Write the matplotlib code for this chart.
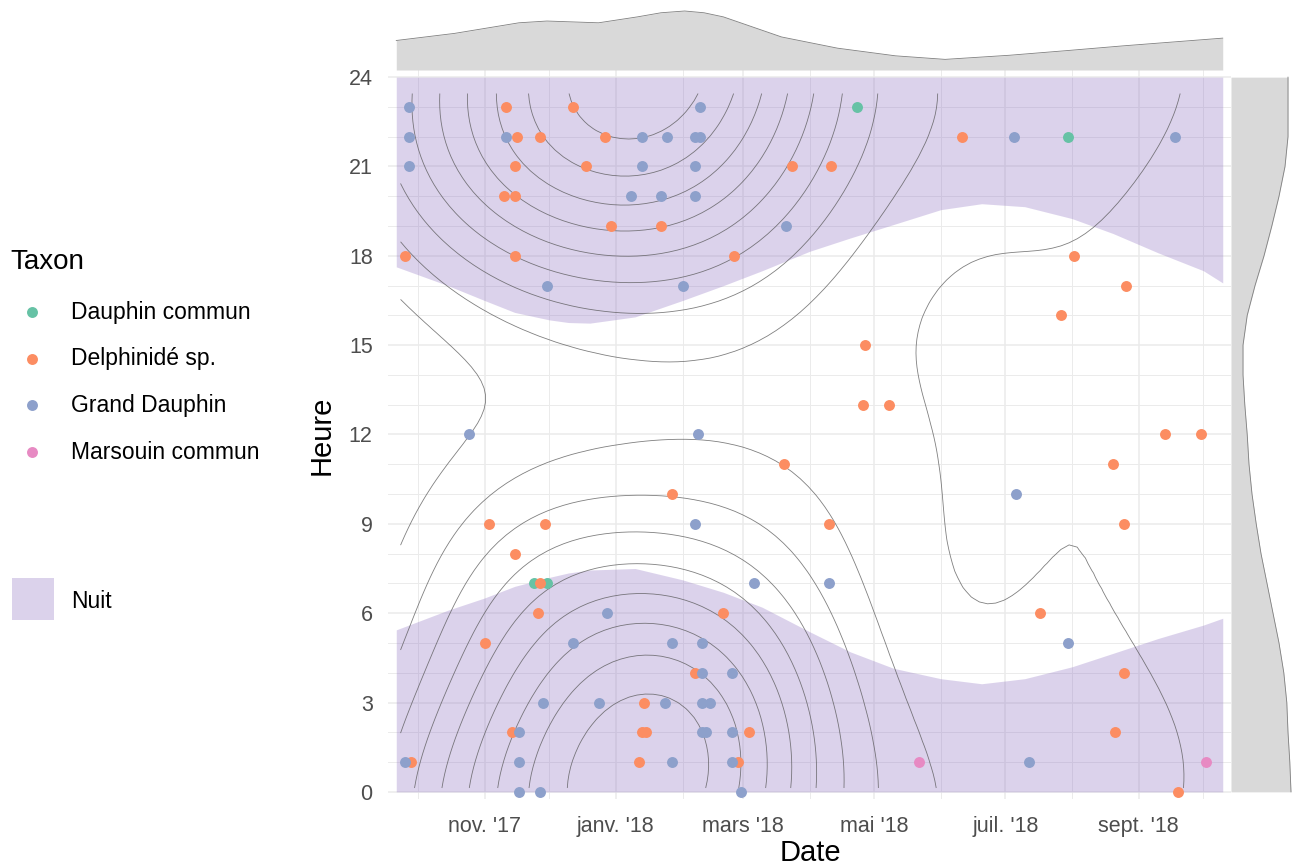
import numpy as np
import pandas as pd
import matplotlib
matplotlib.use("Agg")
import matplotlib.pyplot as plt
import matplotlib.dates as mdates
from matplotlib.patches import Rectangle
from matplotlib.ticker import MaxNLocator, MultipleLocator

plt.rcParams['font.family'] = ['Liberation Sans', 'DejaVu Sans']

# --- observations (date, hour) per taxon ---
dc_dates = ["2018-04-23", "2018-07-30", "2017-11-24", "2017-11-30"]
dc_hours = [23, 22, 7, 7]

ds_dates = ["2017-11-11", "2017-12-12",
            "2017-11-16", "2017-11-27", "2017-12-27", "2018-06-11",
            "2017-11-15", "2017-12-18", "2018-03-24", "2018-04-11",
            "2017-11-10", "2017-11-15",
            "2017-12-30", "2018-01-22",
            "2017-09-25", "2017-11-15", "2018-02-25", "2018-08-02",
            "2018-08-26", "2018-07-27", "2018-04-27",
            "2018-04-26", "2018-05-08",
            "2018-09-13", "2018-09-30",
            "2018-03-20", "2018-08-20",
            "2018-01-27",
            "2017-11-03", "2017-11-29", "2018-04-10", "2018-08-25",
            "2017-11-15", "2017-11-27",
            "2017-11-26", "2018-02-20", "2018-07-17",
            "2017-11-01",
            "2018-02-07", "2018-08-25",
            "2018-01-14",
            "2017-11-14", "2018-01-13", "2018-01-15", "2018-03-04", "2018-08-21",
            "2017-09-28", "2018-01-12", "2018-02-27",
            "2018-09-19"]
ds_hours = [23, 23,
            22, 22, 22, 22,
            21, 21, 21, 21,
            20, 20,
            19, 19,
            18, 18, 18, 18,
            17, 16, 15,
            13, 13,
            12, 12,
            11, 11,
            10,
            9, 9, 9, 9,
            8, 7,
            6, 6, 6,
            5,
            4, 4,
            3,
            2, 2, 2, 2, 2,
            1, 1, 1,
            0]

gd_dates = ["2017-09-27", "2018-02-09",
            "2017-09-27", "2017-11-11", "2018-01-13", "2018-01-25", "2018-02-07",
            "2018-02-09", "2018-07-05", "2018-09-18",
            "2017-09-27", "2018-01-13", "2018-02-07",
            "2018-01-08", "2018-01-22", "2018-02-07",
            "2018-03-21",
            "2017-11-30", "2018-02-01",
            "2017-10-25", "2018-02-08",
            "2018-07-06",
            "2018-02-07",
            "2018-03-06", "2018-04-10",
            "2017-12-28",
            "2017-12-12", "2018-01-27", "2018-02-10", "2018-07-30",
            "2018-02-10", "2018-02-24",
            "2017-11-28", "2017-12-24", "2018-01-24", "2018-02-10", "2018-02-14",
            "2017-11-17", "2018-02-10", "2018-02-12", "2018-02-24",
            "2017-09-25", "2017-11-17", "2018-01-27", "2018-02-24", "2018-07-12",
            "2017-11-17", "2017-11-27", "2018-02-28"]
gd_hours = [23, 23,
            22, 22, 22, 22, 22,
            22, 22, 22,
            21, 21, 21,
            20, 20, 20,
            19,
            17, 17,
            12, 12,
            10,
            9,
            7, 7,
            6,
            5, 5, 5, 5,
            4, 4,
            3, 3, 3, 3, 3,
            2, 2, 2, 2,
            1, 1, 1, 1, 1,
            0, 0, 0]

mc_dates = ["2018-05-22", "2018-10-02"]
mc_hours = [1, 1]

taxa = ["Dauphin commun", "Delphinidé sp.", "Grand Dauphin", "Marsouin commun"]
taxa_colors = ["#66C2A5", "#FC8D62", "#8DA0CB", "#E78AC3"]

# --- night band: sunrise / sunset (hours) ---
night_dates = ["2017-09-21", "2017-10-15", "2017-11-01", "2017-11-15", "2017-12-01",
               "2017-12-10", "2017-12-20", "2018-01-10", "2018-02-01", "2018-02-20",
               "2018-03-10", "2018-04-01", "2018-04-20", "2018-05-10", "2018-06-01",
               "2018-06-20", "2018-07-10", "2018-08-01", "2018-08-20", "2018-09-10",
               "2018-10-01", "2018-10-10"]
sunrise = [5.44, 6.10, 6.51, 6.90, 7.20, 7.35, 7.45, 7.50, 7.12, 6.70,
           6.20, 5.38, 4.70, 4.15, 3.80, 3.63, 3.80, 4.20, 4.65, 5.15,
           5.60, 5.83]
sunset = [17.63, 17.00, 16.50, 16.10, 15.85, 15.76, 15.74, 15.95, 16.50, 17.00,
          17.50, 18.15, 18.60, 19.05, 19.55, 19.75, 19.65, 19.25, 18.75, 18.10,
          17.50, 17.09]

# --- marginal densities (relative to their maximum) ---
dens_x_dates = ["2017-09-21", "2017-10-18", "2017-11-17", "2017-11-30", "2017-12-24",
                "2018-01-11", "2018-01-22", "2018-02-02", "2018-02-11", "2018-02-20",
                "2018-03-19", "2018-04-14", "2018-05-11", "2018-06-03", "2018-07-03",
                "2018-07-30", "2018-08-25", "2018-10-10"]
dens_x = [0.50, 0.62, 0.80, 0.83, 0.80, 0.90, 0.97, 1.00, 0.97, 0.90,
          0.56, 0.37, 0.24, 0.18, 0.25, 0.33, 0.41, 0.54]

dens_y_hours = [24, 22, 21, 20, 19, 18, 17, 16, 15, 14, 13, 12,
                11, 10, 9, 8, 7, 6, 5, 4, 3, 2, 1, 0]
dens_y = [0.95, 0.95, 0.90, 0.80, 0.68, 0.55, 0.40, 0.27, 0.20, 0.20, 0.23, 0.27,
          0.30, 0.35, 0.42, 0.50, 0.60, 0.70, 0.80, 0.88, 0.93, 0.95, 0.98, 1.00]

xtick_dates = ["2017-11-01", "2018-01-01", "2018-03-01", "2018-05-01", "2018-07-01", "2018-09-01"]
xtick_labels = ["nov. '17", "janv. '18", "mars '18", "mai '18", "juil. '18", "sept. '18"]

night_col = "#8a6cc0"
grid_col = "#EBEBEB"
marg_fill = "#D9D9D9"
marg_line = "#7f7f7f"


def to_num(ds):
    return mdates.date2num(pd.to_datetime(ds))


def nrd(v):
    q75, q25 = np.percentile(v, [75, 25])
    return 4 * 1.06 * min(np.std(v, ddof=1), (q75 - q25) / 1.34) * len(v) ** -0.2


def kde2d_wrapped(x, y, gx, gy, period=24, adjust_x=1.25):
    # hours wrap around midnight, so each point also counts one day up and down
    hx, hy = adjust_x * nrd(x) / 4, nrd(y) / 4
    xs = np.concatenate([x, x, x])
    ys = np.concatenate([y, y - period, y + period])
    ax_ = np.exp(-0.5 * ((gx[:, None] - xs[None, :]) / hx) ** 2)
    ay_ = np.exp(-0.5 * ((gy[:, None] - ys[None, :]) / hy) ** 2)
    return (ax_ @ ay_.T) / (2 * np.pi * len(x) * hx * hy)


groups = [(dc_dates, dc_hours), (ds_dates, ds_hours), (gd_dates, gd_hours), (mc_dates, mc_hours)]
all_x = np.concatenate([to_num(d) for d, h in groups])
all_y = np.concatenate([np.asarray(h, float) for d, h in groups])

nx = to_num(night_dates)
span = nx[-1] - nx[0]
xlim = (nx[0] - 0.01 * span, nx[-1] + 0.01 * span)
ylim = (-0.24, 24.24)

W, H = 1293, 868
fig = plt.figure(figsize=(W / 100, H / 100), dpi=100)


def px_axes(x0, y0, x1, y1):
    return fig.add_axes([x0 / W, 1 - y1 / H, (x1 - x0) / W, (y1 - y0) / H])


ax = px_axes(388, 70, 1231, 799)
ax.set_xlim(xlim)
ax.set_ylim(ylim)
for s in ax.spines.values():
    s.set_visible(False)

# grid
ax.set_yticks(np.arange(0, 25, 3))
ax.yaxis.set_minor_locator(MultipleLocator(1))
ax.set_xticks(to_num(xtick_dates), xtick_labels)
ax.xaxis.set_minor_locator(mdates.MonthLocator(bymonth=[2, 4, 6, 8, 10, 12]))
ax.grid(True, which='major', color=grid_col, lw=1.1, zorder=0)
ax.grid(True, which='minor', color=grid_col, lw=0.7, zorder=0)
ax.set_axisbelow(True)
ax.tick_params(which='both', length=0)
ax.tick_params(axis='y', pad=11, labelsize=15.5, labelcolor='#4D4D4D')
ax.tick_params(axis='x', pad=12, labelsize=15.5, labelcolor='#4D4D4D')

# night band
ax.fill_between(nx, sunset, 24, color=night_col, alpha=0.3, lw=0, zorder=1)
ax.fill_between(nx, 0, sunrise, color=night_col, alpha=0.3, lw=0, zorder=1)

# 2D density contours
gx = np.linspace(all_x.min() - 2, all_x.max() + 1, 100)
gy = np.linspace(all_y.min() + 0.13, all_y.max() + 0.45, 100)
z = kde2d_wrapped(all_x, all_y, gx, gy)
levels = MaxNLocator(nbins=10).tick_values(z.min(), z.max())
levels = levels[(levels > z.min()) & (levels < z.max())]
ax.contour(gx, gy, z.T, levels=levels, colors='#555555', linewidths=0.6, alpha=0.75, zorder=2)

# points
for (d, h), col in zip(groups, taxa_colors):
    ax.scatter(to_num(d), h, s=62, color=col, lw=0, zorder=3)

fig.text(322 / W, 1 - 435 / H, "Heure", rotation=90, ha='center', va='center', size=21)
fig.text(810 / W, 1 - 853 / H, "Date", ha='center', va='center', size=21)

# top marginal: density of dates
axt = px_axes(388, 11, 1231, 70)
dxn = to_num(dens_x_dates)
axt.fill_between(dxn, 0, dens_x, color=marg_fill, lw=0)
axt.plot(dxn, dens_x, color=marg_line, lw=0.6, clip_on=False)
axt.set_xlim(xlim)
axt.set_ylim(0, 1)
axt.axis('off')

# right marginal: density of hours
axr = px_axes(1231, 70, 1291, 799)
axr.fill_betweenx(dens_y_hours, 0, dens_y, color=marg_fill, lw=0)
axr.plot(dens_y, dens_y_hours, color=marg_line, lw=0.6, clip_on=False)
axr.set_ylim(ylim)
axr.set_xlim(0, 1)
axr.axis('off')

# legend
leg = fig.add_axes([0, 0, 1, 1])
leg.set_xlim(0, W)
leg.set_ylim(H, 0)
leg.axis('off')
leg.text(10, 262, "Taxon", size=20, va='center', ha='left')
for i, (name, col) in enumerate(zip(taxa, taxa_colors)):
    yy = 312 + i * 46.7
    leg.scatter([32], [yy], s=62, color=col, lw=0)
    leg.text(71, yy, name, size=16.5, va='center', ha='left')
leg.add_patch(Rectangle((12, 578), 42, 42, color=night_col, alpha=0.3, lw=0))
leg.text(71, 601, "Nuit", size=16.5, va='center', ha='left')

fig.savefig("out.png", dpi=100)
